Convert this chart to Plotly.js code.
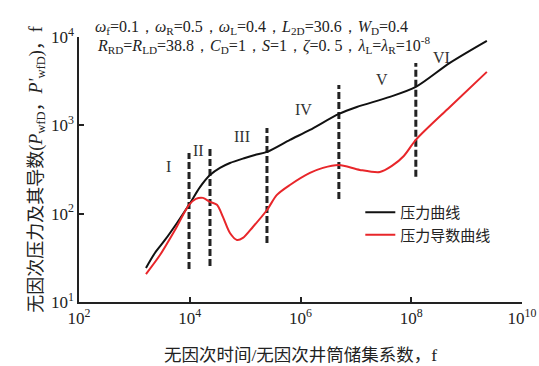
<!DOCTYPE html>
<html>
<head>
<meta charset="utf-8">
<script src="https://cdn.plot.ly/plotly-3.0.1.min.js"></script>
<style>
  html, body { margin: 0; padding: 0; background: #fff; }
  #chart { width: 539px; height: 366px; }
</style>
</head>
<body>
<div id="chart"></div>
<script>
// pressure curve (black)
const pressX = [1620, 2350, 3570, 5880, 9700, 15300, 23200, 35100, 53200, 99100, 150000, 248000,
  644000, 1.48e6, 4.93e6, 1.04e7, 4.11e7, 1.21e8, 4.98e8, 2.32e9];
const pressY = [24.3, 35.9, 50.4, 78.5, 126, 200, 274, 330, 375, 427, 462, 500,
  684, 887, 1346, 1614, 2100, 2722, 5090, 9040];

// pressure derivative curve (red)
const derivX = [1620, 2900, 5410, 9700, 12900, 17300, 23200, 31000, 39700, 53200, 71200, 91200, 138000,
  248000, 375000, 644000, 1.48e6, 2.54e6, 4.93e6, 1.18e7, 2.71e7, 4.47e7, 7.34e7, 1.21e8, 4.98e8, 2.32e9];
const derivY = [20.7, 34.0, 65.3, 126, 147, 151, 136, 126, 91.8, 60.4, 50.4, 53.1, 70.6,
  110, 163, 211, 289, 330, 356, 313, 296, 347, 450, 684, 1614, 4030];

// flow-regime boundaries (dashed)
const bounds = [9700, 23200, 248000, 4.93e6, 1.21e8];
const boundLow = [23.7, 25.6, 46.6, 147, 261];
const boundHigh = [486, 541, 935, 2870, 5090];

const regimes = ['I', 'II', 'III', 'IV', 'V', 'VI'];
const regimeLogX = [3.625, 4.166, 4.942, 6.061, 7.469, 8.552];
const regimeLogY = [2.529, 2.710, 2.869, 3.174, 3.514, 3.763];

const xTickVals = [1e2, 1e4, 1e6, 1e8, 1e10];
const xTickText = ['10<sup>2</sup>', '10<sup>4</sup>', '10<sup>6</sup>', '10<sup>8</sup>', '10<sup>10</sup>'];
const yTickVals = [1e1, 1e2, 1e3, 1e4];
const yTickText = ['10<sup>1</sup>', '10<sup>2</sup>', '10<sup>3</sup>', '10<sup>4</sup>'];

const serif = 'Liberation Serif, Times New Roman, serif';
const cjk = 'Liberation Serif, Noto Sans CJK SC, serif';
const ink = '#222';

const traces = [];
bounds.forEach((b, i) => {
  traces.push({
    x: [b, b], y: [boundLow[i], boundHigh[i]],
    mode: 'lines', showlegend: false, hoverinfo: 'skip',
    line: { color: ink, width: 3, dash: '7px,3px' }
  });
});
traces.push({
  x: pressX, y: pressY, name: '压力曲线', mode: 'lines',
  line: { color: '#111', width: 2, shape: 'spline', smoothing: 0.8 }
});
traces.push({
  x: derivX, y: derivY, name: '压力导数曲线', mode: 'lines',
  line: { color: '#e8262a', width: 2, shape: 'spline', smoothing: 0.8 }
});

const annotations = regimes.map((r, i) => ({
  x: regimeLogX[i], y: regimeLogY[i], xref: 'x', yref: 'y',
  text: r, showarrow: false, font: { family: serif, size: 16, color: '#333' }
}));
annotations.push({
  xref: 'paper', yref: 'paper', x: 0.032, y: 1.036, xanchor: 'left', yanchor: 'middle',
  showarrow: false, font: { family: serif, size: 16, color: ink },
  text: '<i>ω</i><sub>f</sub>=0.1，<i>ω</i><sub>R</sub>=0.5，<i>ω</i><sub>L</sub>=0.4，<i>L</i><sub>2D</sub>=30.6，<i>W</i><sub>D</sub>=0.4'
});
annotations.push({
  xref: 'paper', yref: 'paper', x: 0.036, y: 0.968, xanchor: 'left', yanchor: 'middle',
  showarrow: false, font: { family: serif, size: 16, color: ink },
  text: '<i>R</i><sub>RD</sub>=<i>R</i><sub>LD</sub>=38.8，<i>C</i><sub>D</sub>=1，<i>S</i>=1，<i>ζ</i>=0. 5，<i>λ</i><sub>L</sub>=<i>λ</i><sub>R</sub>=10<sup>-8</sup>'
});

const layout = {
  width: 539, height: 366,
  margin: { l: 79, r: 17, t: 37, b: 64 },
  paper_bgcolor: '#fff', plot_bgcolor: '#fff',
  font: { family: cjk, color: ink },
  showlegend: true,
  legend: {
    x: 0.635, y: 0.40, xanchor: 'left', yanchor: 'top',
    bgcolor: 'rgba(0,0,0,0)', itemwidth: 30,
    font: { family: cjk, size: 15, color: ink }
  },
  xaxis: {
    type: 'log', range: [2, 10], showgrid: false, zeroline: false,
    showline: true, linecolor: ink, linewidth: 1.5, mirror: false,
    ticks: 'inside', ticklen: 5, tickcolor: ink, tickwidth: 1.5,
    tickvals: xTickVals, ticktext: xTickText,
    tickfont: { family: serif, size: 17, color: ink },
    title: { text: '无因次时间/无因次井筒储集系数，f', font: { family: cjk, size: 17.5, color: ink }, standoff: 22 }
  },
  yaxis: {
    type: 'log', range: [1, 4], showgrid: false, zeroline: false,
    showline: true, linecolor: ink, linewidth: 1.5, mirror: false,
    ticks: 'inside', ticklen: 5, tickcolor: ink, tickwidth: 1.5,
    tickvals: yTickVals, ticktext: yTickText,
    tickfont: { family: serif, size: 17, color: ink },
    title: { text: '无因次压力及其导数(<i>P</i><sub>wfD</sub>，<i>P\'</i><sub>wfD</sub>)，f', font: { family: cjk, size: 18, color: ink }, standoff: 4 }
  },
  annotations: annotations
};

Plotly.newPlot('chart', traces, layout, { displayModeBar: false, responsive: false });
</script>
</body>
</html>
